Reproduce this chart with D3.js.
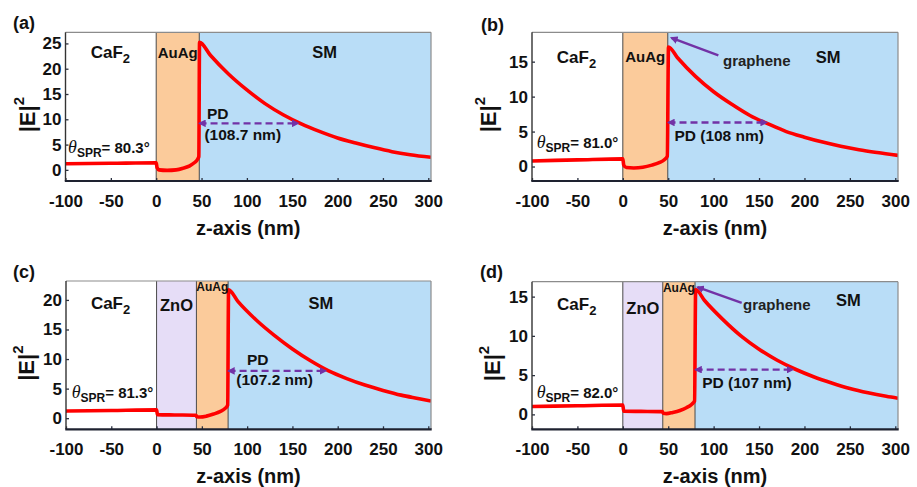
<!DOCTYPE html>
<html>
<head>
<meta charset="utf-8">
<script src="https://cdn.jsdelivr.net/npm/d3@7"></script>
<style>
  body { margin: 0; background: #fff; }
  svg { font-family: "Liberation Sans", Arial, sans-serif; }
  text { font-weight: bold; fill: #111; }
</style>
</head>
<body>
<svg id="fig" width="917" height="487"></svg>
<script>
// shared x axis (nm)
const xTicks = [-100, -50, 0, 50, 100, 150, 200, 250, 300]
const xDomain = [-100, 303]

// y ticks per panel
const yTicksA = [0, 5, 10, 15, 20, 25]
const yTicksB = [0, 5, 10, 15]
const yTicksC = [0, 5, 10, 15, 20]
const yTicksD = [0, 5, 10, 15]

// |E|^2 profiles, [z (nm), |E|^2]
const curveA = [[-100, 1.2], [-50, 1.3], [0, 1.4], [1, 0.4], [3, 0.0], [12, -0.1], [22, 0.0], [30, 0.35],
  [37, 0.8], [42, 1.4], [46, 2.2], [47, 2.6], [47.8, 25.2], [60, 22.6], [80, 18.9], [100, 15.8],
  [120, 13.1], [140, 10.9], [160, 9.1], [180, 7.6], [200, 6.3], [220, 5.3], [240, 4.4], [260, 3.6],
  [280, 3.0], [303, 2.5]]
const curveB = [[-100, 0.8], [-50, 0.95], [0, 1.1], [1, 0.2], [4, -0.15], [12, -0.2], [22, -0.1], [32, 0.2],
  [40, 0.55], [46, 1.0], [49, 1.5], [50.3, 17.1], [60, 15.6], [80, 12.9], [100, 10.7], [120, 8.9],
  [140, 7.3], [160, 6.1], [180, 5.0], [200, 4.2], [220, 3.5], [240, 2.9], [260, 2.4], [280, 2.0],
  [303, 1.6]]
const curveC = [[-100, 1.2], [-50, 1.3], [0, 1.4], [1, 0.6], [20, 0.55], [43.5, 0.5], [44.5, 0.25], [48, 0.2],
  [55, 0.35], [63, 0.7], [70, 1.1], [76, 1.7], [78.5, 2.2], [79.5, 21.7], [90, 19.7], [110, 16.6],
  [130, 14.0], [150, 11.7], [170, 9.7], [190, 8.0], [210, 6.7], [230, 5.6], [250, 4.7], [270, 3.9],
  [290, 3.3], [303, 2.9]]
const curveD = [[-100, 1.0], [-50, 1.1], [0, 1.2], [1, 0.4], [20, 0.38], [43.5, 0.35], [44.5, 0.15], [48, 0.1],
  [55, 0.25], [63, 0.5], [70, 0.85], [76, 1.3], [79, 1.7], [80.2, 15.9], [90, 14.5], [110, 12.1],
  [130, 10.0], [150, 8.3], [170, 6.9], [190, 5.75], [210, 4.8], [230, 4.0], [250, 3.3], [270, 2.75],
  [290, 2.3], [303, 2.05]]

// layer stacks (nm)
const layersA = [{name: "CaF2", from: -100, to: 0}, {name: "AuAg", from: 0, to: 47.5}, {name: "SM", from: 47.5, to: 303}]
const layersB = [{name: "CaF2", from: -100, to: 0}, {name: "AuAg", from: 0, to: 49.5}, {name: "SM", from: 49.5, to: 303}]
const layersC = [{name: "CaF2", from: -100, to: 0}, {name: "ZnO", from: 0, to: 44}, {name: "AuAg", from: 44, to: 79}, {name: "SM", from: 79, to: 303}]
const layersD = [{name: "CaF2", from: -100, to: 0}, {name: "ZnO", from: 0, to: 44}, {name: "AuAg", from: 44, to: 79.5}, {name: "SM", from: 79.5, to: 303}]

const fills = {CaF2: "#ffffff", ZnO: "#e6ddf7", AuAg: "#fbcb9b", SM: "#b9ddf7"}
const purple = "#7232a6"

const panels = [
  {tag: "(a)", tagPos: [13, 23], l: 65.5, r: 431, t: 32.3, b: 181, yDom: [-2.2, 27.2], yTicks: yTicksA,
   curve: curveA, layers: layersA, ylabOff: 39, auSize: 15,
   labels: {CaF2: [-50.5, 23.3], AuAg: [23.75, 23.3], SM: [185.7, 23.3]},
   pd: {from: 47.8, to: 156.5, level: 9.2, text: [["PD", 67.9, 11.2], ["(108.7 nm)", 95.4, 6.9]]},
   theta: {val: "80.3", at: [-97.2, 4.6]}},
  {tag: "(b)", tagPos: [481, 25], l: 532, r: 898, t: 32.3, b: 181, yDom: [-2.07, 19.2], yTicks: yTicksB,
   curve: curveB, layers: layersB, ylabOff: 44, auSize: 15,
   labels: {CaF2: [-51, 15.7], AuAg: [24.75, 15.7], SM: [226, 15.7]},
   graphene: {text: [110.3, 15.1], from: [105.2, 15.9], to: [53.5, 18.4]},
   pd: {from: 50.3, to: 158.3, level: 6.3, text: [["PD (108 nm)", 106.1, 4.5]]},
   theta: {val: "81.0", at: [-94.8, 3.5]}},
  {tag: "(c)", tagPos: [13, 272], l: 66, r: 431, t: 281, b: 429.3, yDom: [-1.88, 23.2], yTicks: yTicksC,
   curve: curveC, layers: layersC, ylabOff: 40, auSize: 12,
   labels: {CaF2: [-50.8, 19.5], ZnO: [22, 19.1], AuAg: [61.5, 22.2], SM: [181.5, 19.4]},
   pd: {from: 79.5, to: 186.7, level: 8.0, text: [["PD", 111.7, 9.85], ["(107.2 nm)", 130.4, 6.5]]},
   theta: {val: "81.3", at: [-93.7, 4.5]}},
  {tag: "(d)", tagPos: [480, 272], l: 532, r: 898, t: 281.7, b: 429.3, yDom: [-1.9, 16.9], yTicks: yTicksD,
   curve: curveD, layers: layersD, ylabOff: 40, auSize: 12,
   labels: {CaF2: [-50.8, 14.0], ZnO: [22, 13.5], AuAg: [61.75, 16.1], SM: [248.3, 14.6]},
   graphene: {text: [132.3, 14.0], from: [130.9, 14.2], to: [82.2, 16.2]},
   pd: {from: 80.2, to: 187.2, level: 5.7, text: [["PD (107 nm)", 136.7, 4.0]]},
   theta: {val: "82.0", at: [-94.8, 2.9]}}
]

const svg = d3.select("#fig")

const defs = svg.append("defs")
defs.append("marker")
  .attr("id", "head")
  .attr("viewBox", "0 0 10 10")
  .attr("refX", 8).attr("refY", 5)
  .attr("markerWidth", 3.2).attr("markerHeight", 3.2)
  .attr("orient", "auto-start-reverse")
  .append("path").attr("d", "M0,0 L10,5 L0,10 z").attr("fill", purple)

panels.forEach(function(p, i) {
  const x = d3.scaleLinear().domain(xDomain).range([p.l, p.r])
  const y = d3.scaleLinear().domain(p.yDom).range([p.b, p.t])
  const g = svg.append("g").attr("class", "panel")

  defs.append("clipPath").attr("id", "clip" + i)
    .append("rect").attr("x", p.l).attr("y", p.t).attr("width", p.r - p.l).attr("height", p.b - p.t)

  // layer fills
  g.selectAll("rect.layer")
    .data(p.layers)
    .join("rect")
    .attr("class", "layer")
    .attr("x", d => x(d.from))
    .attr("width", d => x(d.to) - x(d.from))
    .attr("y", p.t)
    .attr("height", p.b - p.t)
    .attr("fill", d => fills[d.name])

  // interfaces
  g.selectAll("line.iface")
    .data(p.layers.slice(1))
    .join("line")
    .attr("class", "iface")
    .attr("x1", d => x(d.from)).attr("x2", d => x(d.from))
    .attr("y1", p.t).attr("y2", p.b)
    .attr("stroke", "#4a4a4a").attr("stroke-width", 1)

  // field profile
  const line = d3.line()
    .x(d => x(d[0]))
    .y(d => y(d[1]))
    .curve(d3.curveMonotoneX)

  g.append("path")
    .datum(p.curve)
    .attr("clip-path", "url(#clip" + i + ")")
    .attr("d", line)
    .attr("fill", "none")
    .attr("stroke", "#ff0000")
    .attr("stroke-width", 3.6)
    .attr("stroke-linejoin", "round")

  // layer names
  Object.keys(p.labels).forEach(function(name) {
    const pos = p.labels[name]
    const t = g.append("text")
      .attr("x", x(pos[0])).attr("y", y(pos[1]))
      .attr("text-anchor", "middle")
      .attr("dominant-baseline", "central")
    if (name == "CaF2") {
      t.attr("font-size", 17)
      t.append("tspan").text("CaF")
      t.append("tspan").attr("dy", 6).attr("font-size", 13).text("2")
    } else if (name == "AuAg") {
      t.attr("font-size", p.auSize).text("AuAg")
    } else {
      t.attr("font-size", 16.5).text(name)
    }
  })

  // penetration depth arrow
  g.append("line")
    .attr("x1", x(p.pd.from)).attr("x2", x(p.pd.to))
    .attr("y1", y(p.pd.level)).attr("y2", y(p.pd.level))
    .attr("stroke", purple).attr("stroke-width", 2.4)
    .attr("stroke-dasharray", "7,4")
    .attr("marker-start", "url(#head)")
    .attr("marker-end", "url(#head)")

  p.pd.text.forEach(function(d) {
    g.append("text")
      .attr("x", x(d[1])).attr("y", y(d[2]))
      .attr("text-anchor", "middle")
      .attr("dominant-baseline", "central")
      .attr("font-size", 15.5)
      .text(d[0])
  })

  // graphene pointer
  if (p.graphene) {
    g.append("line")
      .attr("x1", x(p.graphene.from[0])).attr("y1", y(p.graphene.from[1]))
      .attr("x2", x(p.graphene.to[0])).attr("y2", y(p.graphene.to[1]))
      .attr("stroke", purple).attr("stroke-width", 2.4)
      .attr("marker-end", "url(#head)")
    g.append("text")
      .attr("x", x(p.graphene.text[0])).attr("y", y(p.graphene.text[1]))
      .attr("dominant-baseline", "central")
      .attr("font-size", 15)
      .style("fill", "#222")
      .text("graphene")
  }

  // theta_SPR
  const th = g.append("text")
    .attr("x", x(p.theta.at[0])).attr("y", y(p.theta.at[1]))
    .attr("dominant-baseline", "central")
  th.append("tspan")
    .attr("font-family", "'Liberation Serif', serif")
    .attr("font-style", "italic").attr("font-weight", "normal")
    .attr("font-size", 18).text("θ")
  th.append("tspan").attr("dy", 6).attr("font-size", 12).text("SPR")
  th.append("tspan").attr("dy", -6).attr("font-size", 15).text("= " + p.theta.val + "°")

  // axes
  const xAxis = g.append("g")
    .attr("transform", "translate(0," + p.b + ")")
    .call(d3.axisBottom(x).tickValues(xTicks).tickFormat(d => String(d))
      .tickSize(-3).tickSizeOuter(0).tickPadding(14))
  const yAxis = g.append("g")
    .attr("transform", "translate(" + p.l + ",0)")
    .call(d3.axisLeft(y).tickValues(p.yTicks).tickFormat(d => String(d))
      .tickSize(-3).tickSizeOuter(0).tickPadding(4))
  ;[xAxis, yAxis].forEach(function(a) {
    a.select(".domain").remove()
    a.selectAll(".tick line").attr("stroke", "#2a3040").attr("stroke-width", 1.3)
    a.selectAll(".tick text")
      .attr("font-size", 17)
      .attr("font-family", "'Liberation Sans', Arial, sans-serif")
      .style("fill", "#111")
  })

  // box
  g.append("line").attr("x1", p.l).attr("x2", p.r).attr("y1", p.t).attr("y2", p.t)
    .attr("stroke", "#8c8c8c").attr("stroke-width", 1.2)
  g.append("line").attr("x1", p.r).attr("x2", p.r).attr("y1", p.t).attr("y2", p.b)
    .attr("stroke", "#8c8c8c").attr("stroke-width", 1.2)
  g.append("line").attr("x1", p.l).attr("x2", p.l).attr("y1", p.t).attr("y2", p.b)
    .attr("stroke", "#333").attr("stroke-width", 1.4)
  g.append("line").attr("x1", p.l - 0.7).attr("x2", p.r + 0.7).attr("y1", p.b).attr("y2", p.b)
    .attr("stroke", "#1e2230").attr("stroke-width", 2.2)

  // axis titles
  g.append("text")
    .attr("x", (p.l + p.r) / 2).attr("y", p.b + 47)
    .attr("text-anchor", "middle")
    .attr("dominant-baseline", "central")
    .attr("font-size", 20)
    .text("z-axis (nm)")

  const yl = g.append("text")
    .attr("transform", "translate(" + (p.l - p.ylabOff) + "," + ((p.t + p.b) / 2 + 8) + ") rotate(-90)")
    .attr("text-anchor", "middle")
    .attr("dominant-baseline", "central")
    .attr("font-size", 22)
  yl.append("tspan").text("|E|")
  yl.append("tspan").attr("dy", -9).attr("font-size", 15).text("2")

  // panel tag
  g.append("text")
    .attr("x", p.tagPos[0]).attr("y", p.tagPos[1])
    .attr("dominant-baseline", "central")
    .attr("font-size", 18)
    .text(p.tag)
})
</script>
</body>
</html>
